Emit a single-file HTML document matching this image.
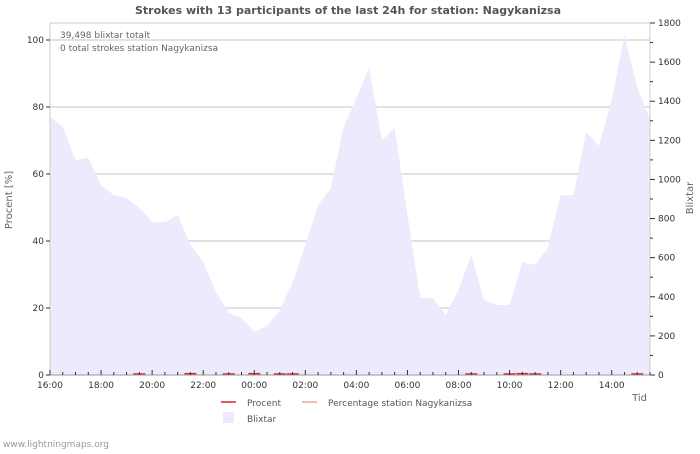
<!DOCTYPE html>
<html><head><meta charset="utf-8"><style>
body{margin:0;background:#fff;font-family:"DejaVu Sans","Liberation Sans",sans-serif;}
svg text{font-family:"DejaVu Sans","Liberation Sans",sans-serif;}
</style></head><body>
<svg id="c" width="700" height="450" xmlns="http://www.w3.org/2000/svg">
<rect width="700" height="450" fill="#fff"/>
<text x="348" y="14" text-anchor="middle" font-size="11" font-weight="bold" fill="#555">Strokes with 13 participants of the last 24h for station: Nagykanizsa</text>
<g id="grid"></g>
<g id="area"></g>
<g id="pct"></g>
<g id="axes"></g>
<text x="60" y="38" font-size="9" fill="#666">39,498 blixtar totalt</text>
<text x="60" y="51" font-size="9" fill="#666">0 total strokes station Nagykanizsa</text>
<text transform="translate(12,200) rotate(-90)" text-anchor="middle" font-size="10" fill="#666">Procent   [%]</text>
<text transform="translate(693,198) rotate(-90)" text-anchor="middle" font-size="10" fill="#666">Blixtar</text>
<text x="647" y="401" text-anchor="end" font-size="10" fill="#666">Tid</text>
<g>
<line x1="221" y1="402" x2="236" y2="402" stroke="#d62728" stroke-width="1.5"/>
<text x="247" y="406" font-size="9" fill="#555">Procent</text>
<line x1="302" y1="402" x2="317" y2="402" stroke="#f4a0a0" stroke-width="1.5"/>
<text x="328" y="406" font-size="9" fill="#555">Percentage station Nagykanizsa</text>
<rect x="223" y="412" width="11" height="11" fill="#ebebfd"/>
<text x="247" y="422" font-size="9" fill="#555">Blixtar</text>
</g>
<text x="3" y="447" font-size="9" fill="#999">www.lightningmaps.org</text>
</svg>
<script>
const blixtar=[1319,1268,1099,1110,969,920,905,854,782,782,818,665,578,425,317,292,220,251,332,471,665,869,956,1268,1416,1570,1202,1263,818,394,394,307,435,614,383,358,358,578,563,650,920,920,1243,1171,1406,1739,1468,1310];
const procent=[0,0,0,0,0,0,0,0.3,0,0,0,0.4,0,0,0.3,0,0.4,0,0.3,0.3,0,0,0,0,0,0,0,0,0,0,0,0,0,0.3,0,0,0.3,0.4,0.3,0,0,0,0,0,0,0,0.3,0];
const leftTicks=[0,20,40,60,80,100];
const rightTicks=[0,200,400,600,800,1000,1200,1400,1600,1800];
const xLabels=["16:00","18:00","20:00","22:00","00:00","02:00","04:00","06:00","08:00","10:00","12:00","14:00"];
const X0=50,X1=650,YB=375,YT=23;
const step=(X1-X0)/(blixtar.length-1);
const x=i=>X0+i*step;
const yL=v=>YB-v*(YB-40)/100;
const yR=v=>YB-v*(YB-YT)/1800;
const NS="http://www.w3.org/2000/svg";
function mk(p,t,a){const e=document.createElementNS(NS,t);for(const k in a)e.setAttribute(k,a[k]);document.getElementById(p).appendChild(e);return e;}
leftTicks.forEach(v=>{if(v>0){const l=mk('grid','line',{x1:X0,x2:X1,y1:yL(v),y2:yL(v),stroke:'#c4c4c4','stroke-width':1});

}});
let d=`M${x(0)},${YB}`;blixtar.forEach((v,i)=>d+=` L${x(i)},${yR(v)}`);d+=` L${x(blixtar.length-1)},${YB} Z`;
const ar=mk('area','path',{d:d,fill:'#ebebfd'});


procent.forEach((v,i)=>{if(v>0){const s=mk('pct','line',{x1:x(i)-6,x2:x(i)+6,y1:yL(v),y2:yL(v),stroke:'#d62728','stroke-width':1.5});

}});
mk('axes','line',{x1:X0,x2:X0,y1:YT,y2:YB,stroke:'#ccc'});
mk('axes','line',{x1:X0,x2:X1,y1:YT,y2:YT,stroke:'#ccc'});
mk('axes','line',{x1:X1,x2:X1,y1:YT,y2:YB,stroke:'#ccc'});
mk('axes','line',{x1:X0,x2:X1,y1:YB,y2:YB,stroke:'#999'});
leftTicks.forEach(v=>{mk('axes','line',{x1:X0-4,x2:X0,y1:yL(v),y2:yL(v),stroke:'#333'});
const t=mk('axes','text',{x:X0-6,y:yL(v)+3,'text-anchor':'end','font-size':9,fill:'#333'});t.textContent=v;

});
for(let v=0;v<=1800;v+=100){mk('axes','line',{x1:X1,x2:X1+(v%200?3:5),y1:yR(v),y2:yR(v),stroke:'#333'});}
rightTicks.forEach(v=>{const t=mk('axes','text',{x:X1+8,y:yR(v)+3,'font-size':9,fill:'#333'});t.textContent=v;

});
for(let i=0;i<blixtar.length;i++){mk('axes','line',{x1:x(i),x2:x(i),y1:YB-(i%4?3:5),y2:YB,stroke:'#333'});}
xLabels.forEach((s,k)=>{const t=mk('axes','text',{x:x(k*4),y:388,'text-anchor':'middle','font-size':9,fill:'#333'});t.textContent=s;

});
</script>
</body></html>
